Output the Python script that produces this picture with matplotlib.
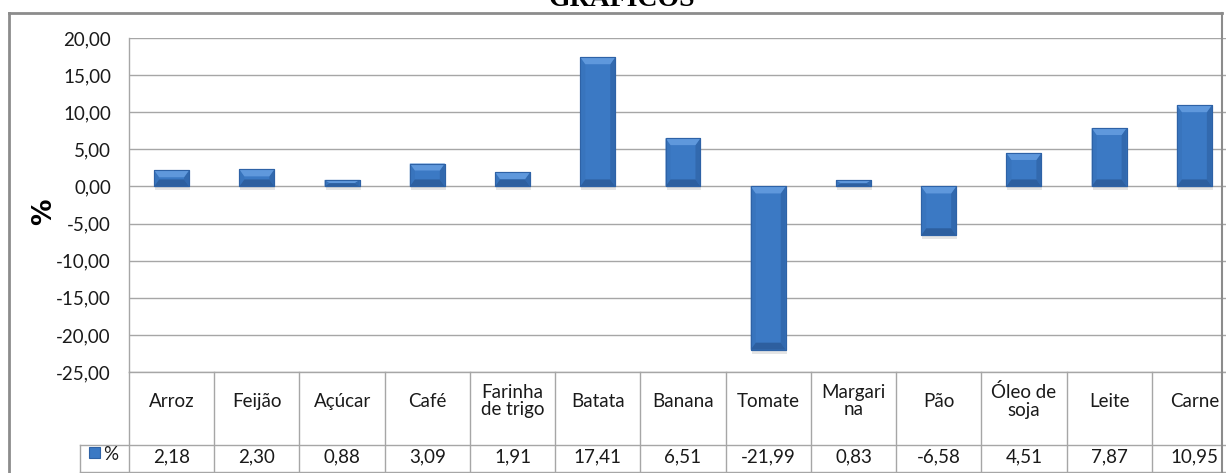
import matplotlib
matplotlib.use("Agg")
import matplotlib.pyplot as plt
from matplotlib.patches import Polygon, Rectangle
from matplotlib.lines import Line2D
import matplotlib.transforms as mtransforms

categories = ["Arroz", "Feijão", "Açúcar", "Café", "Farinha\nde trigo", "Batata",
              "Banana", "Tomate", "Margari\nna", "Pão", "Óleo de\nsoja", "Leite", "Carne"]
values = [2.18, 2.30, 0.88, 3.09, 1.91, 17.41, 6.51, -21.99, 0.83, -6.58, 4.51, 7.87, 10.95]
value_labels = ["2,18", "2,30", "0,88", "3,09", "1,91", "17,41", "6,51", "-21,99",
                "0,83", "-6,58", "4,51", "7,87", "10,95"]
yticks = [20, 15, 10, 5, 0, -5, -10, -15, -20, -25]
ytick_labels = ["20,00", "15,00", "10,00", "5,00", "0,00", "-5,00", "-10,00",
                "-15,00", "-20,00", "-25,00"]
series_name = "%"
title = "GRÁFICOS"

W, H = 1226, 473
fig = plt.figure(figsize=(W / 100, H / 100), dpi=100)
fig.patch.set_facecolor("white")

FONT = ["Lato", "DejaVu Sans"]
FS = 13.5
TXT = "#1a1a1a"
GRID = "#a6a6a6"

def fx(px):
    return px / W

def fy(py):
    return 1 - py / H

ax_left, ax_right, ax_top, ax_bot = 129, 1237, 38, 372
ax = fig.add_axes([fx(ax_left), fy(ax_bot), fx(ax_right - ax_left), (ax_bot - ax_top) / H])
ax.set_xlim(0, len(categories))
ax.set_ylim(-25, 20)
for s in ["top", "right", "bottom"]:
    ax.spines[s].set_visible(False)
ax.spines["left"].set_color(GRID)
ax.spines["left"].set_linewidth(1)
ax.set_xticks([])
ax.set_yticks(yticks)
ax.set_yticklabels(ytick_labels, fontfamily=FONT, fontsize=FS, color=TXT)
ax.tick_params(axis="y", length=0, pad=13)
ax.yaxis.grid(True, color=GRID, linewidth=1)
ax.set_axisbelow(True)

# bars
xs = [i + 0.5 for i in range(len(categories))]
bw = 0.41
bars = ax.bar(xs, values, width=bw, color="#3b79c4", edgecolor="#2e62a6",
              linewidth=0.8, zorder=3)

px_y = 45 / (ax_bot - ax_top)        # data units per pixel (y)
px_x = len(categories) / (ax_right - ax_left)  # data units per pixel (x)
for b in bars:
    x0 = b.get_x(); x1 = x0 + b.get_width()
    y0 = min(b.get_y(), b.get_y() + b.get_height())
    y1 = max(b.get_y(), b.get_y() + b.get_height())
    h = y1 - y0
    d = min(7 * px_y, h / 2)
    sx = min(5 * px_x, (x1 - x0) / 2)
    # shadow
    ax.add_patch(Rectangle((x0 + 1 * px_x, y0 - 4 * px_y), x1 - x0, h, color="#000000",
                           alpha=0.10, zorder=2.5, linewidth=0))
    # side shading
    ax.add_patch(Polygon([(x0, y0), (x0 + sx, y0 + d), (x0 + sx, y1 - d), (x0, y1)],
                         closed=True, color="#3874bd", zorder=3.2, linewidth=0))
    ax.add_patch(Polygon([(x1, y0), (x1 - sx, y0 + d), (x1 - sx, y1 - d), (x1, y1)],
                         closed=True, color="#3269ae", zorder=3.2, linewidth=0))
    # top bevel (light)
    ax.add_patch(Polygon([(x0, y1), (x1, y1), (x1 - sx, y1 - d), (x0 + sx, y1 - d)],
                         closed=True, color="#5f98dc", zorder=3.3, linewidth=0))
    # bottom bevel (dark)
    ax.add_patch(Polygon([(x0, y0), (x1, y0), (x1 - sx, y0 + d), (x0 + sx, y0 + d)],
                         closed=True, color="#2d5f9f", zorder=3.3, linewidth=0))
    ax.add_patch(Rectangle((x0, y0), x1 - x0, h, fill=False, edgecolor="#2e62a6",
                           linewidth=0.8, zorder=3.4))

# y label
fig.text(fx(44), fy(212), series_name, rotation=90, ha="center", va="center",
         fontfamily=["DejaVu Sans"], fontsize=19, fontweight="bold", color="#000000")

# table drawn under the axes
trans = mtransforms.blended_transform_factory(ax.transData, fig.transFigure)
row_top, row_mid, row_bot = 372, 445, 472
leg_left = 80
for i in range(len(categories) + 1):
    ax.add_line(Line2D([i, i], [fy(row_top), fy(row_bot)], transform=trans,
                       color=GRID, linewidth=1, clip_on=False))
ax.add_line(Line2D([0, len(categories)], [fy(row_top), fy(row_top)], transform=trans,
                   color=GRID, linewidth=1, clip_on=False))
fig.add_artist(Line2D([fx(leg_left), fx(ax_right)], [fy(row_mid), fy(row_mid)],
                      color=GRID, linewidth=1))
fig.add_artist(Line2D([fx(leg_left), fx(ax_right)], [fy(row_bot), fy(row_bot)],
                      color=GRID, linewidth=1))
fig.add_artist(Line2D([fx(leg_left), fx(leg_left)], [fy(row_mid), fy(row_bot)],
                      color=GRID, linewidth=1))

for x, c, v in zip(xs, categories, value_labels):
    ax.text(x, fy(401), c, transform=trans, ha="center", va="center",
            fontfamily=FONT, fontsize=FS, color=TXT, linespacing=1.05, clip_on=False)
    ax.text(x, fy(462), v, transform=trans, ha="center", va="baseline",
            fontfamily=FONT, fontsize=FS, color=TXT, clip_on=False)

# legend key in table
fig.add_artist(Rectangle((fx(89), fy(458)), fx(11), 11 / H, facecolor="#3b79c4",
                         edgecolor="#2e62a6", linewidth=0.8))
fig.text(fx(103), fy(460), series_name, ha="left", va="baseline", fontfamily=FONT,
         fontsize=FS, color=TXT)

# outer chart border
fig.add_artist(Line2D([fx(9), fx(1222)], [fy(13), fy(13)], color="#8c8c8c", linewidth=2))
fig.add_artist(Line2D([fx(9), fx(9)], [fy(13), fy(473)], color="#8c8c8c", linewidth=2))
fig.add_artist(Line2D([fx(1222), fx(1222)], [fy(13), fy(473)], color="#8c8c8c", linewidth=1.5))

# document title (cut off at the top edge, as in the source image)
fig.text(fx(622), fy(6), title, ha="center", va="baseline",
         fontfamily=["Liberation Serif", "DejaVu Serif"], fontweight="bold", fontsize=20,
         color="#000000")

fig.savefig("out.png", dpi=100, facecolor="white")
